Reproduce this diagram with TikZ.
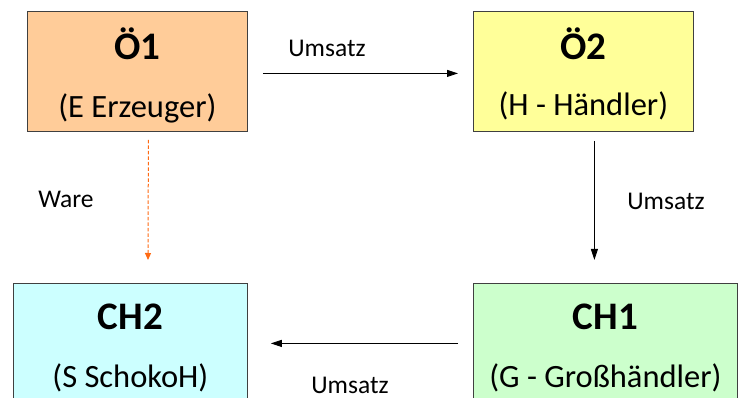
\documentclass[tikz,border=0pt]{standalone}
\usepackage{fontspec}
\setmainfont{Carlito}
\usetikzlibrary{arrows.meta}
\definecolor{peach}{HTML}{FFCC99}
\definecolor{lyellow}{HTML}{FFFF99}
\definecolor{lcyan}{HTML}{CCFFFF}
\definecolor{lgreen}{HTML}{CCFFCC}
\definecolor{boxline}{HTML}{404040}
\definecolor{warecol}{HTML}{FF6A13}
\tikzset{
  box/.style={draw=boxline, line width=0.8pt, minimum height=120pt, inner sep=0pt, anchor=north west},
  title/.style={font=\fontsize{39}{41}\selectfont\bfseries, inner sep=0pt},
  sub/.style={font=\fontsize{32.5}{34}\selectfont, inner sep=0pt},
  lbl/.style={font=\fontsize{25.5}{27}\selectfont, inner sep=0pt},
  flow/.style={draw=black, line width=0.9pt, -{Triangle[length=11pt,width=7pt]}},
  ware/.style={draw=warecol, line width=1pt, dash pattern=on 3.5pt off 2pt, -{Triangle[length=7pt,width=6pt]}}
}
\begin{document}
\begin{tikzpicture}[x=1pt,y=-1pt]
\useasboundingbox (0,0) rectangle (742,398);
\clip (0,0) rectangle (742,398);
% boxes
\node[box, fill=peach, minimum width=220pt] (o1) at (27,11) {};
\node[box, fill=lyellow, minimum width=220pt] (o2) at (473,11) {};
\node[box, fill=lcyan, minimum width=234pt] (ch2) at (13,283) {};
\node[box, fill=lgreen, minimum width=264pt] (ch1) at (473,283) {};
% texts
\node[title] (o1t) at ([yshift=-33pt]o1.north) {Ö1};
\node[sub] (o1s) at ([yshift=-97pt]o1.north) {(E Erzeuger)};
\node[title] (o2t) at ([yshift=-33pt]o2.north) {Ö2};
\node[sub] (o2s) at ([yshift=-95pt]o2.north) {(H - Händler)};
\node[title] (ch2t) at ([yshift=-34pt]ch2.north) {CH2};
\node[sub] (ch2s) at ([yshift=-95pt]ch2.north) {(S SchokoH)};
\node[title] (ch1t) at ([yshift=-34pt]ch1.north) {CH1};
\node[sub] (ch1s) at ([yshift=-95pt]ch1.north) {(G - Großhändler)};
% connectors
\coordinate (wareend) at (148,260);
\draw[ware] ([xshift=11pt,yshift=-8pt]o1.south) -- (wareend);
\draw[flow] ([xshift=15pt,yshift=-2pt]o1.east) -- ([xshift=-15pt,yshift=-2pt]o2.west);
\draw[flow] ([xshift=11pt,yshift=-9pt]o2.south) -- ([xshift=-11pt,yshift=23pt]ch1.north);
\draw[flow] ([xshift=-15pt]ch1.west) -- ([xshift=23pt]ch2.east);
% labels
\node[lbl] (l1) at (327,48) {Umsatz};
\node[lbl] (l2) at (666,201) {Umsatz};
\node[lbl] (l3) at (350,385) {Umsatz};
\node[lbl] (l4) at (66,199) {Ware};
\end{tikzpicture}
\end{document}
